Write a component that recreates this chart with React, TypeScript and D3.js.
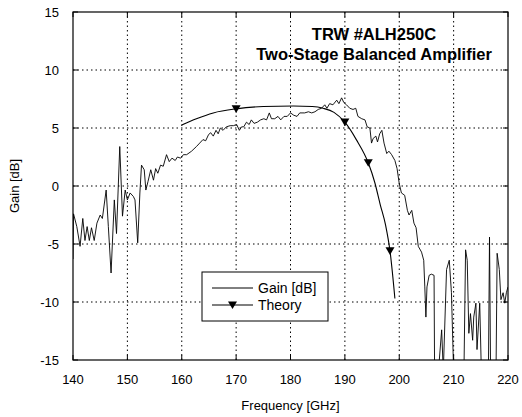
import * as d3 from "d3";

// measured gain (GHz, dB)
const gainFreq = [
  140.0, 140.1, 140.7, 141.3, 141.8, 142.2, 142.6, 143.0, 143.4, 143.9, 144.4, 145.0, 145.4, 146.1, 146.5,
  147.0, 147.6, 148.0, 148.6, 149.1, 149.6, 150.0, 150.5, 151.1, 151.4, 151.9, 152.3, 152.6, 153.1, 153.4,
  153.8, 154.3, 154.8, 155.2, 155.6, 156.1, 156.6, 157.2, 157.7, 158.2, 158.8, 159.2, 159.8, 160.3, 160.9,
  161.8, 162.7, 163.3, 163.9, 164.4, 164.9, 165.3, 165.8, 166.3, 166.7, 167.1, 167.6, 168.2, 168.9, 169.5,
  170.1, 170.6, 171.0, 171.4, 171.9, 172.4, 172.8, 173.3, 173.9, 174.5, 175.1, 175.6, 176.1, 176.5, 177.1,
  177.7, 178.2, 178.8, 179.4, 180.0, 180.6, 181.2, 181.7, 182.6, 183.3, 183.9, 184.5, 185.1, 185.7, 186.3,
  186.7, 187.2, 187.8, 188.5, 188.9, 189.4, 189.8, 190.3, 190.9, 191.5, 192.0, 192.4, 193.1, 193.7, 194.1,
  194.6, 194.9, 195.2, 195.7, 196.0, 196.4, 196.8, 197.2, 197.7, 198.1, 198.6, 199.2, 199.6, 200.0, 200.4,
  201.0, 201.5, 201.8, 202.3, 202.7, 203.1, 203.5, 204.1, 204.5, 204.7, 204.9, 205.1, 205.5, 205.9, 206.4,
  206.5, 207.2, 207.8, 208.1, 208.7, 209.2, 209.6, 210.0, 211.9, 212.2, 212.5, 212.8, 213.1, 213.5, 213.7,
  214.1, 214.3, 214.8, 215.1, 216.4, 216.6, 216.8, 217.8, 218.0, 218.4, 218.7, 219.1, 219.4, 219.7, 220.0,
];
const gainDb = [
  -6.3, -2.4, -3.5, -5.2, -2.8, -4.7, -3.5, -4.7, -3.6, -4.7, -3.2, -2.5, -2.8, -0.35, -3.5,
  -7.5, -1.2, -4.1, 3.4, -2.6, -0.35, -1.2, -0.6, -0.9, -1.2, -4.9, -0.6, 1.8, 1.4, -0.35,
  0.4, 1.4, 0.5, 1.5, 1.1, 1.8, 1.7, 2.7, 2.1, 2.4, 2.2, 2.5, 2.4, 2.7, 2.7,
  3.0, 3.4, 3.7, 4.0, 3.9, 4.4, 4.6, 4.3, 4.8, 4.5, 5.0, 4.8, 5.1, 5.2, 5.2,
  5.3, 4.8, 5.1, 5.1, 5.5, 5.3, 5.7, 5.4, 5.5, 5.7, 5.8, 5.7, 6.3, 5.8, 5.8,
  6.0, 5.7, 6.0, 6.0, 6.3, 6.1, 6.0, 6.3, 6.3, 6.4, 6.3, 6.4, 6.6, 6.7, 7.0,
  6.7, 7.1, 7.0, 7.4, 7.1, 7.6, 7.2, 7.0, 6.7, 6.6, 6.7, 6.0, 5.8, 5.7, 5.1,
  5.0, 3.7, 4.1, 4.3, 3.8, 4.5, 4.8, 3.7, 2.8, 3.0, 2.7, 2.2, 1.5, 0.2, -0.6,
  -0.8, -2.1, -2.5, -2.1, -3.2, -3.6, -5.2, -5.7, -6.4, -8.7, -11.3, -8.7, -7.7, -7.6, -7.7,
  -16, -16, -12.4, -16, -7.2, -6.4, -9.2, -16, -16, -5.5, -6.4, -12.7, -11, -13.3, -11.3,
  -10.1, -14.1, -10.1, -16, -16, -4.4, -16, -16, -5.8, -7.2, -9.8, -9.2, -10.1, -9.2, -8.7,
];

// theory curve
const theoryFreq = [160, 162.7, 165.8, 170, 175, 180.5, 184, 186, 188, 190, 192.1, 194.3, 195.5, 196.5, 197.5, 198.3, 199.2];
const theoryDb = [5.25, 5.8, 6.3, 6.65, 6.85, 6.9, 6.85, 6.7, 6.35, 5.5, 4.0, 2.0, 0.3, -1.6, -3.4, -5.6, -9.7];
const markerFreq = [170, 190, 194.3, 198.3];
const markerDb = [6.65, 5.5, 2.0, -5.6];

const xTicks = [140, 150, 160, 170, 180, 190, 200, 210, 220];
const yTicks = [-15, -10, -5, 0, 5, 10, 15];

const W = 522;
const H = 417;
const left = 73, right = 508, top = 12, bottom = 360;
const font = "'Liberation Sans', Arial, Helvetica, sans-serif";

function tri(cx: number, cy: number, s = 4.5) {
  return `M${cx - s},${cy - s * 0.8}L${cx + s},${cy - s * 0.8}L${cx},${cy + s * 0.9}Z`;
}

export default function App() {
  const x = d3.scaleLinear([140, 220], [left, right]);
  const y = d3.scaleLinear([-15, 15], [bottom, top]);

  const gainLine = d3.line<number>((_, i) => x(gainFreq[i]), (d) => y(d));
  const theoryLine = d3
    .line<number>((_, i) => x(theoryFreq[i]), (d) => y(d))
    .curve(d3.curveMonotoneX);

  return (
    <svg width={W} height={H} style={{ position: "absolute", left: 0, top: 0, background: "#fff" }} fontFamily={font}>
      <defs>
        <clipPath id="plot">
          <rect x={left} y={top} width={right - left} height={bottom - top} />
        </clipPath>
      </defs>
      {/* grid */}
      <g stroke="#000" strokeWidth={1} strokeDasharray="1.5,3">
        {xTicks.slice(1, -1).map((t) => (
          <line key={t} x1={x(t)} x2={x(t)} y1={top} y2={bottom} />
        ))}
        {yTicks.slice(1, -1).map((t) => (
          <line key={t} x1={left} x2={right} y1={y(t)} y2={y(t)} />
        ))}
      </g>
      {/* ticks inside on all sides */}
      <g stroke="#000" strokeWidth={1}>
        {xTicks.map((t) => (
          <g key={t}>
            <line x1={x(t)} x2={x(t)} y1={bottom} y2={bottom - 5} />
            <line x1={x(t)} x2={x(t)} y1={top} y2={top + 5} />
          </g>
        ))}
        {yTicks.map((t) => (
          <g key={t}>
            <line x1={left} x2={left + 5} y1={y(t)} y2={y(t)} />
            <line x1={right} x2={right - 5} y1={y(t)} y2={y(t)} />
          </g>
        ))}
      </g>
      {/* data */}
      <g clipPath="url(#plot)" fill="none" stroke="#000">
        <path d={gainLine(gainDb) ?? ""} strokeWidth={0.9} />
        <path d={theoryLine(theoryDb) ?? ""} strokeWidth={1.1} />
      </g>
      <g fill="#000">
        {markerFreq.map((f, i) => (
          <path key={f} d={tri(x(f), y(markerDb[i]))} />
        ))}
      </g>
      {/* axes box */}
      <rect x={left} y={top} width={right - left} height={bottom - top} fill="none" stroke="#000" strokeWidth={1.2} />
      {/* tick labels */}
      <g fontSize={13} fill="#000">
        {xTicks.map((t) => (
          <text key={t} x={x(t)} y={384} textAnchor="middle">{t}</text>
        ))}
        {yTicks.map((t) => (
          <text key={t} x={59} y={y(t) + 4.5} textAnchor="end">{t}</text>
        ))}
      </g>
      <text x={(left + right) / 2} y={410} textAnchor="middle" fontSize={13}>Frequency [GHz]</text>
      <text transform={`translate(19,${(top + bottom) / 2}) rotate(-90)`} textAnchor="middle" fontSize={13}>Gain [dB]</text>
      {/* title */}
      <g fontSize={16.5} fontWeight="bold" textAnchor="middle">
        <text x={374} y={40}>TRW #ALH250C</text>
        <text x={374} y={60}>Two-Stage Balanced Amplifier</text>
      </g>
      {/* legend */}
      <g>
        <rect x={202} y={272} width={126} height={49} fill="#fff" stroke="#000" strokeWidth={1} />
        <line x1={212} x2={253} y1={288} y2={288} stroke="#000" />
        <line x1={212} x2={253} y1={305} y2={305} stroke="#000" strokeWidth={1.1} />
        <path d={tri(232.5, 305)} fill="#000" />
        <text x={258} y={293} fontSize={14}>Gain [dB]</text>
        <text x={258} y={310} fontSize={14}>Theory</text>
      </g>
    </svg>
  );
}
